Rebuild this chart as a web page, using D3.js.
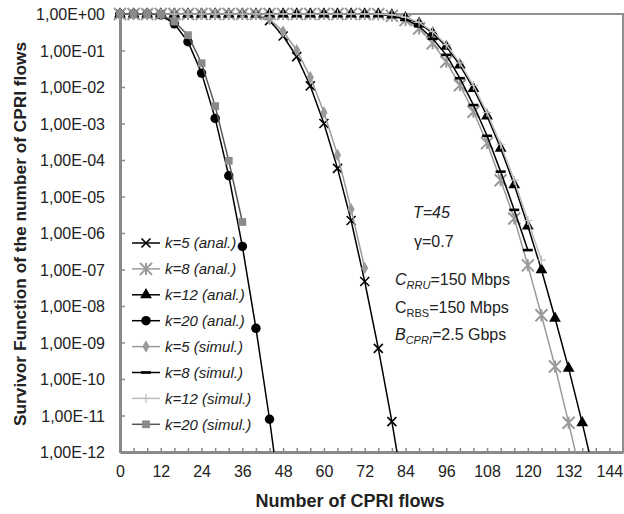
<!DOCTYPE html>
<html>
<head>
<meta charset="UTF-8">
<style>
  body { margin: 0; background: #fff; font-family: Arial, "Liberation Sans", sans-serif; }
  svg text { font-family: Arial, "Liberation Sans", sans-serif; }
</style>
</head>
<body>
<svg id="chart" width="624" height="514"></svg>
<script src="https://d3js.org/d3.v7.min.js"></script>
<script>
// number of CPRI flows (one sample every 4 flows)
const flows = [0,4,8,12,16,20,24,28,32,36,40,44,48,52,56,60,64,68,72,76,80,84,88,92,96,100,104,108,112,116,120,124,128,132,136,140];

// survivor function values (index i -> flows[i])
const k5Anal  = [1,1,1,1,1,1,1,1,1,1,0.98,0.66,0.25,0.068,0.0107,1.0e-3,5.9e-5,2.2e-6,4.7e-8,6.9e-10,6.8e-12,4e-14];
const k8Anal  = [1,1,1,1,1,1,1,1,1,1,1,1,1,1,1,1,1,1,1,0.99,0.89,0.68,0.40,0.158,0.049,0.0112,2.1e-3,2.9e-4,2.8e-5,2.5e-6,1.3e-7,5.6e-9,2.2e-10,6.3e-12,1.6e-13];
const k12Anal = [1,1,1,1,1,1,1,1,1,1,1,1,1,1,1,1,1,1,1,0.995,0.93,0.79,0.56,0.30,0.129,0.040,9.1e-3,1.6e-3,2.1e-4,2.1e-5,1.55e-6,9.8e-8,4.6e-9,1.95e-10,6.3e-12,1.6e-13];
const k20Anal = [1,1,1,0.95,0.537,0.174,0.024,1.38e-3,3.7e-5,4.3e-7,2.45e-9,7.9e-12,1.3e-14];
const k5Sim   = [1,1,1,1,1,1,1,1,1,1,0.98,0.72,0.33,0.102,0.0186,2.0e-3,1.38e-4,4.5e-6,1.1e-7];
const k8Sim   = [1,1,1,1,1,1,1,1,1,1,1,1,1,1,1,1,1,1,1,0.99,0.91,0.72,0.46,0.21,0.076,0.0174,3.2e-3,4.6e-4,4.8e-5,4.3e-6,3.4e-7];
const k12Sim  = [1,1,1,1,1,1,1,1,1,1,1,1,1,1,1,1,1,1,1,1,0.95,0.81,0.59,0.33,0.145,0.046,0.011,2.0e-3,2.7e-4,2.8e-5,2.2e-6,1.8e-7];
const k20Sim  = [1,1,1,0.97,0.62,0.263,0.0447,3.0e-3,9.5e-5,2.0e-6];

const seriesNames = ["k=5 (anal.)","k=8 (anal.)","k=12 (anal.)","k=20 (anal.)",
                     "k=5 (simul.)","k=8 (simul.)","k=12 (simul.)","k=20 (simul.)"];
const seriesValues = [k5Anal, k8Anal, k12Anal, k20Anal, k5Sim, k8Sim, k12Sim, k20Sim];

const yTickValues = [1e0,1e-1,1e-2,1e-3,1e-4,1e-5,1e-6,1e-7,1e-8,1e-9,1e-10,1e-11,1e-12];
const xLabelValues = [0,12,24,36,48,60,72,84,96,108,120,132,144];

// line / marker style per series
const styles = [
  {line: "#000", marker: "x",        color: "#000"},
  {line: "#9a9a9a", marker: "star",  color: "#9a9a9a"},
  {line: "#000", marker: "triangle", color: "#000"},
  {line: "#000", marker: "circle",   color: "#000"},
  {line: "#9a9a9a", marker: "diamond", color: "#9a9a9a"},
  {line: "#000", marker: "dash",     color: "#000"},
  {line: "#bdbdbd", marker: "plus",  color: "#bdbdbd"},
  {line: "#555", marker: "square",   color: "#8a8a8a"}
];

const plotL = 120, plotR = 623, plotT = 14, plotB = 452;

const svg = d3.select("#chart");

const x = d3.scaleLinear().domain([0, 148]).range([plotL, plotR]);
const y = d3.scaleLog().domain([1e-12, 1]).range([plotB, plotT]);

svg.append("defs").append("clipPath").attr("id", "plotclip")
  .append("rect")
  .attr("x", plotL - 8).attr("y", plotT - 8)
  .attr("width", plotR - plotL + 8).attr("height", plotB - plotT + 8);

// plot frame
svg.append("rect")
  .attr("x", plotL).attr("y", plotT)
  .attr("width", plotR - plotL).attr("height", plotB - plotT)
  .attr("fill", "none").attr("stroke", "#8f8f8f").attr("stroke-width", 2);

// y axis
const fmt = v => {
  const e = Math.round(Math.log10(v));
  return "1,00E" + (e >= 0 ? "+" : "-") + String(Math.abs(e)).padStart(2, "0");
};
const yAxis = svg.append("g")
  .attr("transform", `translate(${plotL},0)`)
  .call(d3.axisLeft(y).tickValues(yTickValues).tickFormat(fmt).tickSizeInner(-5).tickSizeOuter(0).tickPadding(15));
yAxis.select(".domain").attr("stroke", "#8a8a8a").attr("stroke-width", 3);
yAxis.selectAll(".tick line").attr("stroke", "#8a8a8a").attr("stroke-width", 1.5);
yAxis.selectAll(".tick text").attr("font-size", 16).attr("fill", "#222").attr("dy", "0.36em");

// x axis: small ticks every 4 flows, labels every 12
const xAxis = svg.append("g")
  .attr("transform", `translate(0,${plotB})`)
  .call(d3.axisBottom(x).tickValues(flows.concat([144, 148])).tickSizeInner(-4).tickSizeOuter(0)
    .tickPadding(14).tickFormat(d => xLabelValues.includes(d) ? d : ""));
xAxis.select(".domain").attr("stroke", "#8a8a8a").attr("stroke-width", 3);
xAxis.selectAll(".tick line").attr("stroke", "#8a8a8a").attr("stroke-width", 1.5);
xAxis.selectAll(".tick text").attr("font-size", 16).attr("fill", "#222");

// axis titles
svg.append("text")
  .attr("transform", `translate(26,${(plotT + plotB) / 2 + 1}) rotate(-90)`)
  .attr("text-anchor", "middle").attr("font-weight", "bold").attr("font-size", 17.3).attr("fill", "#222")
  .text("Survivor Function of the number of CPRI flows");
svg.append("text")
  .attr("x", 350).attr("y", 507)
  .attr("text-anchor", "middle").attr("font-weight", "bold").attr("font-size", 18).attr("fill", "#222")
  .text("Number of CPRI flows");

// marker drawing
function drawMarker(g, type, color) {
  const s = 4.5;
  if (type === "x") {
    g.append("path").attr("d", `M${-s},${-s}L${s},${s}M${-s},${s}L${s},${-s}`)
      .attr("stroke", color).attr("stroke-width", 1.6).attr("fill", "none");
  } else if (type === "star") {
    const r = 6;
    g.append("path").attr("d", `M${-r},${-r}L${r},${r}M${-r},${r}L${r},${-r}M0,${-r}L0,${r}`)
      .attr("stroke", color).attr("stroke-width", 2).attr("fill", "none");
  } else if (type === "plus") {
    g.append("path").attr("d", `M${-s},0L${s},0M0,${-s}L0,${s}`)
      .attr("stroke", color).attr("stroke-width", 1.2).attr("fill", "none");
  } else if (type === "dash") {
    g.append("rect").attr("x", -5).attr("y", -1.3).attr("width", 10).attr("height", 2.6).attr("fill", color);
  } else {
    const sym = {triangle: d3.symbolTriangle, circle: d3.symbolCircle, diamond: d3.symbolDiamond, square: d3.symbolSquare}[type];
    const size = {triangle: 60, circle: 70, diamond: 45, square: 60}[type];
    g.append("path").attr("d", d3.symbol().type(sym).size(size)()).attr("fill", color);
  }
}

const plot = svg.append("g").attr("clip-path", "url(#plotclip)");
const line = d3.line().x(d => x(d[0])).y(d => y(d[1]));

seriesValues.forEach((vals, i) => {
  const pts = vals.map((v, j) => [flows[j], v]);
  const g = plot.append("g");
  g.append("path").datum(pts).attr("d", line)
    .attr("fill", "none").attr("stroke", styles[i].line).attr("stroke-width", 1.5);
  pts.filter(p => p[1] >= 1e-12).forEach(p => {
    drawMarker(g.append("g").attr("transform", `translate(${x(p[0])},${y(p[1])})`), styles[i].marker, styles[i].color);
  });
});

// legend
const legend = svg.append("g");
seriesNames.forEach((name, i) => {
  const ly = 243 + i * 25.9;
  legend.append("line").attr("x1", 132).attr("x2", 160).attr("y1", ly).attr("y2", ly)
    .attr("stroke", styles[i].line).attr("stroke-width", 1.5);
  drawMarker(legend.append("g").attr("transform", `translate(146,${ly})`), styles[i].marker, styles[i].color);
  legend.append("text").attr("x", 165).attr("y", ly).attr("dy", "0.35em")
    .attr("font-size", 15).attr("font-style", "italic").attr("fill", "#222").text(name);
});

// parameter annotations
const ann = svg.append("g").attr("font-size", 16).attr("fill", "#222");
ann.append("text").attr("x", 413).attr("y", 218).attr("font-style", "italic").text("T=45");
ann.append("text").attr("x", 414).attr("y", 247).text("\u03b3=0.7");
const t1 = ann.append("text").attr("x", 395).attr("y", 285);
t1.append("tspan").attr("font-style", "italic").text("C");
t1.append("tspan").attr("font-style", "italic").attr("font-size", 11).attr("dy", 4).text("RRU");
t1.append("tspan").attr("dy", -4).text("=150 Mbps");
const t2 = ann.append("text").attr("x", 395).attr("y", 313);
t2.append("tspan").text("C");
t2.append("tspan").attr("font-size", 11).attr("dy", 4).text("RBS");
t2.append("tspan").attr("dy", -4).text("=150 Mbps");
const t3 = ann.append("text").attr("x", 395).attr("y", 340);
t3.append("tspan").attr("font-style", "italic").text("B");
t3.append("tspan").attr("font-style", "italic").attr("font-size", 11).attr("dy", 4).text("CPRI");
t3.append("tspan").attr("dy", -4).text("=2.5 Gbps");
</script>
</body>
</html>
